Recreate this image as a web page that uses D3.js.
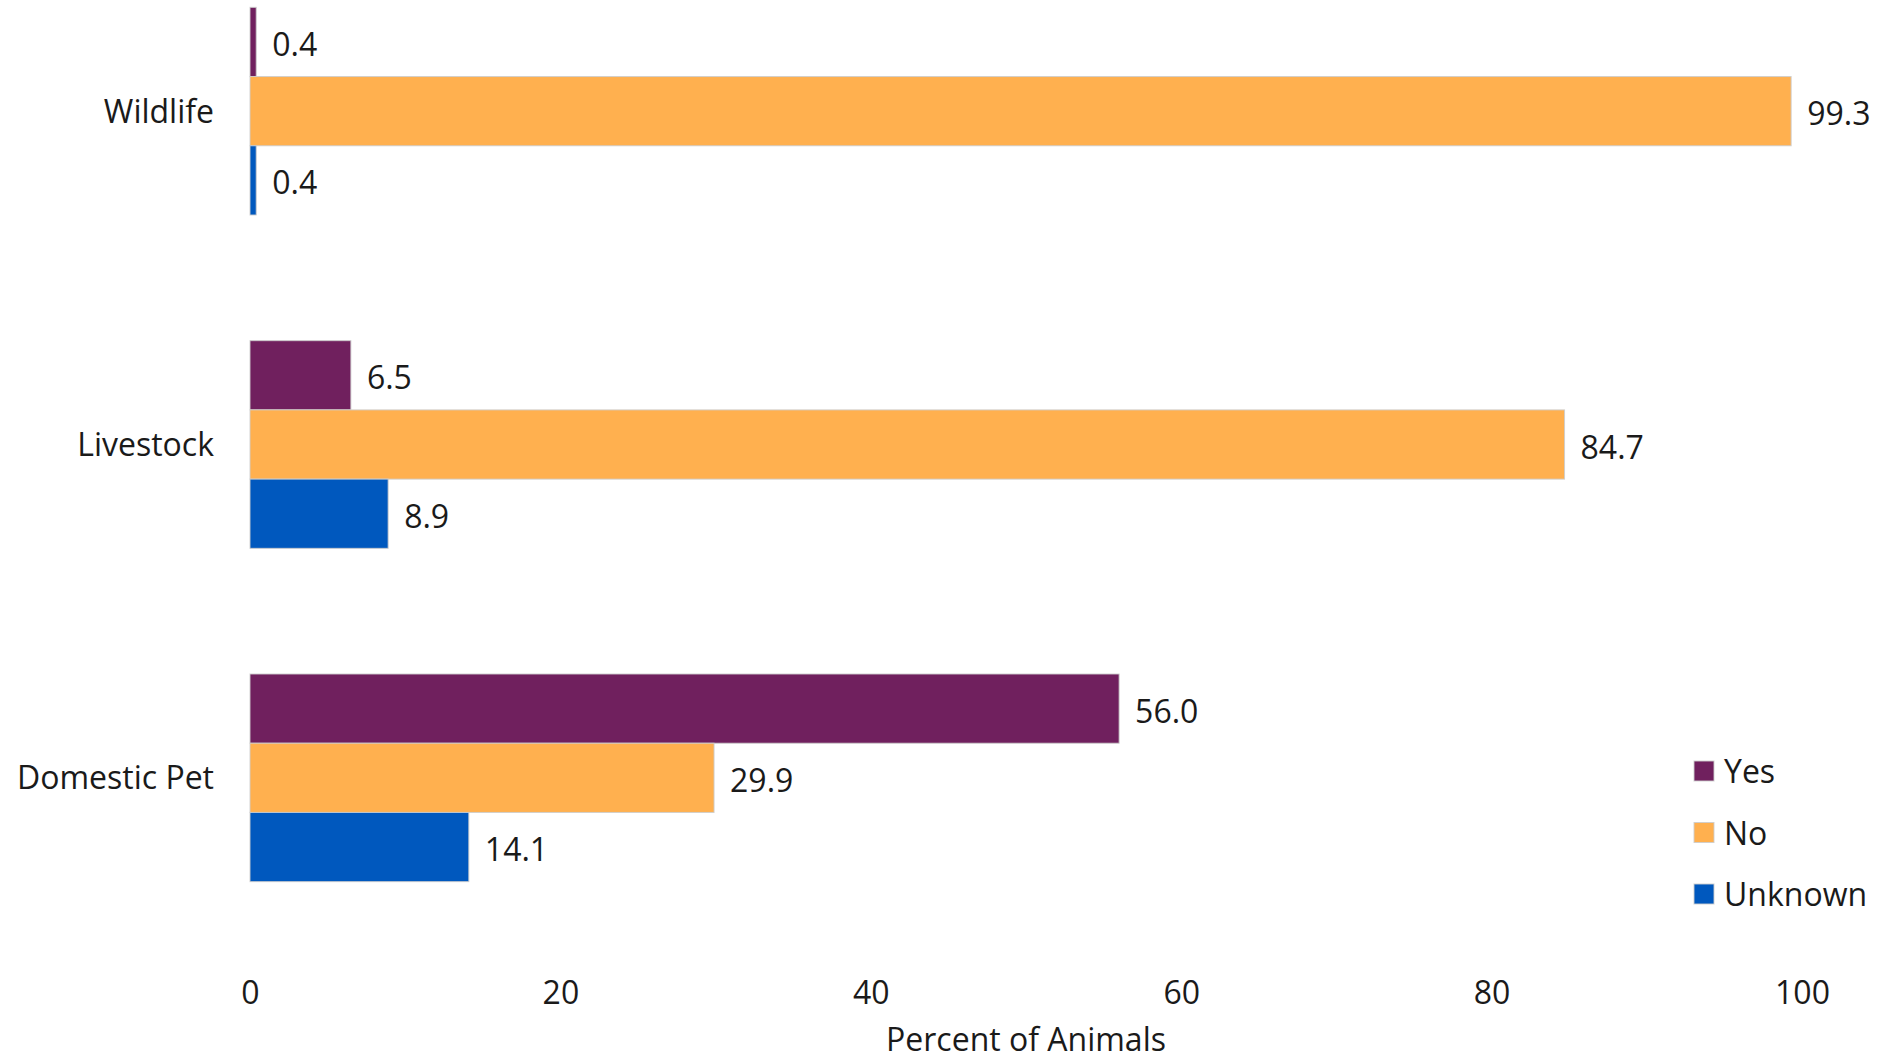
<!DOCTYPE html>
<html>
<head>
<meta charset="utf-8">
<script src="https://cdn.jsdelivr.net/npm/d3@7"></script>
<style>
html,body{margin:0;padding:0;background:#fff;}
svg{display:block;}
text{font-family:"Open Sans","Noto Sans",sans-serif;fill:#1a1a1a;}
</style>
</head>
<body>
<svg id="chart" width="1877" height="1061"></svg>
<script>
const categories = ["Wildlife", "Livestock", "Domestic Pet"];
const seriesNames = ["Yes", "No", "Unknown"];
const yesValues = [0.4, 6.5, 56.0];
const noValues = [99.3, 84.7, 29.9];
const unknownValues = [0.4, 8.9, 14.1];
const tickValues = [0, 20, 40, 60, 80, 100];
const colors = ["#70205E", "#FFB04F", "#0058BE"];
const xTitle = "Percent of Animals";

const seriesValues = [yesValues, noValues, unknownValues];
const data = categories.map((c, i) => ({
  category: c,
  values: seriesNames.map((s, j) => ({series: s, value: seriesValues[j][i], color: colors[j]}))
}));

const svg = d3.select("#chart");
const fontSize = 32;

const x = d3.scaleLinear().domain([0, 100]).range([250, 1802]);
const gapRatio = 0.377;
const y = d3.scaleBand().domain(categories).range([-55.5, 944.5])
  .paddingInner(gapRatio).paddingOuter(gapRatio / 2);
const ySub = d3.scaleBand().domain(seriesNames).range([0, y.bandwidth()]);

const groups = svg.append("g").selectAll("g").data(data).join("g")
  .attr("transform", d => `translate(0,${y(d.category)})`);

groups.selectAll("rect").data(d => d.values).join("rect")
  .attr("x", x(0))
  .attr("y", d => ySub(d.series))
  .attr("width", d => x(d.value) - x(0))
  .attr("height", ySub.bandwidth())
  .attr("fill", d => d.color)
  .attr("stroke", "rgba(205,205,205,0.9)")
  .attr("stroke-width", 1);

groups.selectAll("text.val").data(d => d.values).join("text")
  .attr("class", "val")
  .attr("x", d => x(d.value) + 16)
  .attr("y", d => ySub(d.series) + ySub.bandwidth() / 2)
  .attr("dy", "0.44em")
  .attr("font-size", fontSize)
  .text(d => d.value.toFixed(1));

// category axis (labels only)
const yAxis = d3.axisLeft(y).tickSize(0).tickPadding(0);
const yg = svg.append("g").attr("transform", `translate(${x(0) - 36},0)`).call(yAxis);
yg.select(".domain").remove();
yg.selectAll("text").attr("font-size", fontSize)
  .attr("font-family", "'Open Sans','Noto Sans',sans-serif").attr("fill", "#1a1a1a").attr("dy", "0.36em");

// value axis (labels only)
const xAxis = d3.axisBottom(x).tickValues(tickValues).tickSize(0).tickPadding(0).tickFormat(d3.format("d"));
const xg = svg.append("g").attr("transform", `translate(0,993)`).call(xAxis);
xg.select(".domain").remove();
xg.selectAll("text").attr("font-size", fontSize)
  .attr("font-family", "'Open Sans','Noto Sans',sans-serif").attr("fill", "#1a1a1a").attr("dy", "0.35em");

svg.append("text")
  .attr("x", (x.range()[0] + x.range()[1]) / 2)
  .attr("y", 1051)
  .attr("text-anchor", "middle")
  .attr("font-size", fontSize)
  .text(xTitle);

// legend
const legend = svg.append("g").attr("transform", "translate(1694,761)");
const li = legend.selectAll("g").data(seriesNames).join("g")
  .attr("transform", (d, i) => `translate(0,${i * 61.5})`);
li.append("rect").attr("width", 20).attr("height", 20)
  .attr("fill", (d, i) => colors[i])
  .attr("stroke", "rgba(205,205,205,0.9)").attr("stroke-width", 1);
li.append("text").attr("x", 30).attr("y", 10).attr("dy", "0.38em")
  .attr("font-size", fontSize).text(d => d);
</script>
</body>
</html>
